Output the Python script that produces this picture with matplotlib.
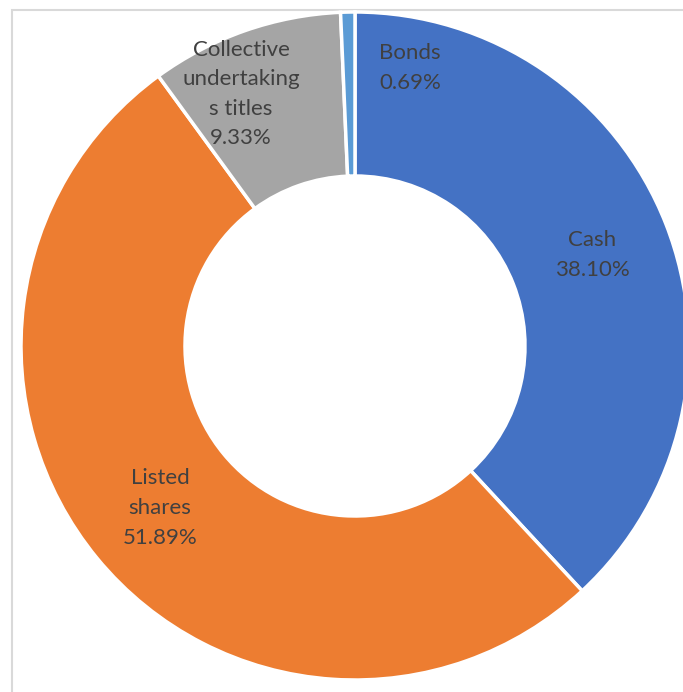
import matplotlib
matplotlib.use("Agg")
import matplotlib.pyplot as plt
from matplotlib.patches import Rectangle

categories = ["Cash", "Listed shares", "Collective undertakings titles", "Bonds"]
values = [38.10, 51.89, 9.33, 0.69]
label_texts = ["Cash\n38.10%", "Listed\nshares\n51.89%", "Collective\nundertaking\ns titles\n9.33%", "Bonds\n0.69%"]
colors = ["#4472C4", "#ED7D31", "#A5A5A5", "#5B9BD5"]

W, H = 683, 692
fig = plt.figure(figsize=(W / 100, H / 100), dpi=100)
ax = fig.add_axes([0, 0, 1, 1])

cx, cy = 355, H - 346
R = 334
ring = 164

ax.add_patch(Rectangle((12, -20), 800, (H - 10) + 20, fill=False,
                       edgecolor="#D9D9D9", linewidth=1.5, zorder=0))

ax.pie(values, colors=colors, startangle=90, counterclock=False,
       center=(cx, cy), radius=R, frame=True,
       wedgeprops=dict(width=ring, edgecolor="white", linewidth=2.5))
ax.set_xlim(0, W)
ax.set_ylim(0, H)
ax.set_aspect("auto")
ax.axis("off")

label_pos = [(592, 255), (160, 508), (241, 94), (410, 68)]
for txt, (px, py) in zip(label_texts, label_pos):
    ax.text(px, H - py, txt, ha="center", va="center", fontsize=16,
            family="Lato", color="#404040", linespacing=1.6)

fig.savefig("out.png", dpi=100)
